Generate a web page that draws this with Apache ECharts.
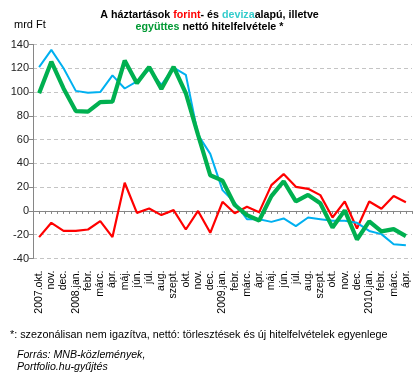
<!DOCTYPE html>
<html><head><meta charset="utf-8">
<script src="https://cdn.jsdelivr.net/npm/echarts@6/dist/echarts.min.js"></script>
<style>html,body{margin:0;padding:0;background:#fff}#c{width:419px;height:379px}</style>
</head><body><div id="c"></div>
<script>
const categories = ['2007.okt.','nov.','dec.','2008.jan.','febr.','márc.','ápr.','máj.','jún.','júl.','aug.','szept.','okt.','nov.','dec.','2009.jan.','febr.','márc.','ápr.','máj.','jún.','júl.','aug.','szept.','okt.','nov.','dec.','2010.jan.','febr.','márc.','ápr.'];
const forint = [-22,-10,-16.7,-16.7,-15.6,-8.6,-22,23.7,-1.6,2,-3.5,0.7,-15.6,0,-18.4,7.7,-2,3.5,-1,21.7,31,20.3,18.6,13.3,-5.5,8,-14.7,8,1.8,12.5,7.4];
const deviza = [121,135.5,120,101,99.5,100,114,103,109,119,106,120.5,114.5,64,48,17.5,7,-7,-7,-9.2,-6.3,-12.8,-5.5,-6.9,-8.3,-8.3,-10,-16.8,-19.5,-28,-28.8];
const egyuttes = [99,125.5,103,84,83.5,91.5,92,126.5,107.5,121,102.5,121.2,99,64,30,25.5,5,-3.5,-8,12.5,25,8,13.5,6.5,-14,0.5,-24,-8.8,-17.2,-15.3,-21.2];
const yMin = -40, yMax = 140, yInterval = 20;
const unitLabel = 'mrd Ft';
const footnote = '*: szezonálisan nem igazítva, nettó: törlesztések és új hitelfelvételek egyenlege';
const source1 = 'Forrás: MNB-közlemények,';
const source2 = 'Portfolio.hu-gyűjtés';

const halfTicks = [];
for (let i = 0; i < categories.length * 2; i++) halfTicks.push('');

const FONT = '"Liberation Sans", Arial, sans-serif';
const TS = 10.7;
const chart = echarts.init(document.getElementById('c'), null, {renderer: 'canvas'});
chart.setOption({
  animation: false,
  backgroundColor: '#fff',
  textStyle: {fontFamily: FONT},
  grid: {left: 33, right: 7, top: 44.5, bottom: 120.5, containLabel: false},
  xAxis: [{
    type: 'category', data: categories, boundaryGap: true, position: 'bottom',
    axisLine: {show: false, onZero: false}, axisTick: {show: false},
    axisLabel: {rotate: 90, interval: 0, margin: 12, fontSize: 10.5, color: '#000', fontFamily: FONT},
    splitLine: {show: false}
  }, {
    type: 'category', data: halfTicks, boundaryGap: true, position: 'top',
    axisLine: {show: true, onZero: true, lineStyle: {color: '#868686', width: 1}},
    axisTick: {show: true, inside: true, interval: 0, length: 3, lineStyle: {color: '#868686'}},
    axisLabel: {show: false}, splitLine: {show: false}
  }],
  yAxis: {
    type: 'value', min: yMin, max: yMax, interval: yInterval,
    axisLine: {show: true, lineStyle: {color: '#868686'}},
    axisTick: {show: true, length: 4, lineStyle: {color: '#868686'}},
    axisLabel: {fontSize: 11, color: '#222', margin: 4, fontFamily: FONT},
    splitLine: {show: true, lineStyle: {color: '#c4c4c4', type: [4, 3], width: 1}}
  },
  series: [
    {name: 'forint', type: 'line', data: forint, xAxisIndex: 0, symbol: 'none', lineStyle: {color: '#ff0000', width: 2.2}, z: 3},
    {name: 'deviza', type: 'line', data: deviza, xAxisIndex: 0, symbol: 'none', lineStyle: {color: '#00b0f0', width: 2}, z: 4},
    {name: 'együttes', type: 'line', data: egyuttes, xAxisIndex: 0, symbol: 'none', lineStyle: {color: '#00b050', width: 4.2}, z: 5}
  ],
  graphic: [
    {type: 'text', left: 'center', top: 10, style: {
      text: '{b|A háztartások }{r|forint}{b|- és }{c|deviza}{b|alapú, illetve}',
      rich: {
        b: {fontFamily: FONT, fontWeight: 'bold', fontSize: TS, fill: '#000', color: '#000'},
        r: {fontFamily: FONT, fontWeight: 'bold', fontSize: TS, fill: '#ff0000', color: '#ff0000'},
        c: {fontFamily: FONT, fontWeight: 'bold', fontSize: TS, fill: '#33cccc', color: '#33cccc'}
      }
    }},
    {type: 'text', left: 'center', top: 22, style: {
      text: '{g|együttes}{b| nettó hitelfelvétele *}',
      rich: {
        b: {fontFamily: FONT, fontWeight: 'bold', fontSize: TS, fill: '#000', color: '#000'},
        g: {fontFamily: FONT, fontWeight: 'bold', fontSize: TS, fill: '#009933', color: '#009933'}
      }
    }},
    {type: 'text', left: 14, top: 19, style: {text: unitLabel, font: '11px ' + FONT, fill: '#000'}},
    {type: 'text', left: 10, top: 330, style: {text: footnote, font: '10.8px ' + FONT, fill: '#000'}},
    {type: 'text', left: 17, top: 350, style: {text: source1, font: 'italic 10.6px ' + FONT, fill: '#000'}},
    {type: 'text', left: 17, top: 362, style: {text: source2, font: 'italic 10.6px ' + FONT, fill: '#000'}}
  ]
});
</script></body></html>
